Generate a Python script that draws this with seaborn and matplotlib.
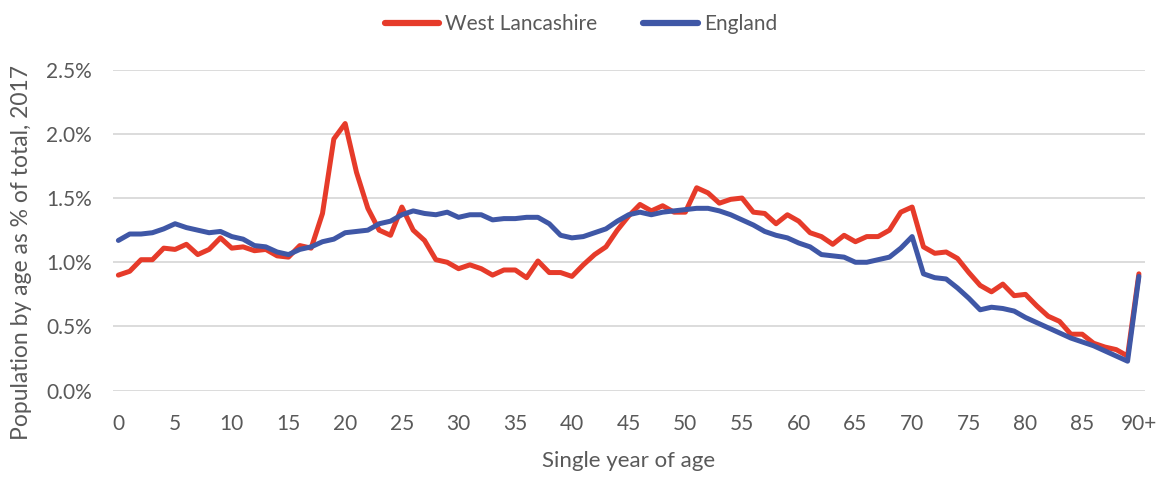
import numpy as np
import pandas as pd
import matplotlib
matplotlib.use("Agg")
import matplotlib.pyplot as plt
import seaborn as sns

# Single year of age, 0 to 90+
ages = list(range(91))
age_tick_labels = ["0", "5", "10", "15", "20", "25", "30", "35", "40", "45",
                   "50", "55", "60", "65", "70", "75", "80", "85", "90+"]

# Population by single year of age as % of total, 2017
west_lancashire = [
    0.90, 0.93, 1.02, 1.02, 1.11, 1.10, 1.14, 1.06, 1.10, 1.19,
    1.11, 1.12, 1.09, 1.10, 1.05, 1.04, 1.13, 1.11, 1.38, 1.96,
    2.08, 1.70, 1.42, 1.25, 1.21, 1.43, 1.25, 1.17, 1.02, 1.00,
    0.95, 0.98, 0.95, 0.90, 0.94, 0.94, 0.88, 1.01, 0.92, 0.92,
    0.89, 0.98, 1.06, 1.12, 1.25, 1.36, 1.45, 1.40, 1.44, 1.39,
    1.39, 1.58, 1.54, 1.46, 1.49, 1.50, 1.39, 1.38, 1.30, 1.37,
    1.32, 1.23, 1.20, 1.14, 1.21, 1.16, 1.20, 1.20, 1.25, 1.39,
    1.43, 1.12, 1.07, 1.08, 1.03, 0.92, 0.82, 0.77, 0.83, 0.74,
    0.75, 0.66, 0.58, 0.54, 0.44, 0.44, 0.37, 0.34, 0.32, 0.27,
    0.91,
]
england = [
    1.17, 1.22, 1.22, 1.23, 1.26, 1.30, 1.27, 1.25, 1.23, 1.24,
    1.20, 1.18, 1.13, 1.12, 1.08, 1.06, 1.10, 1.12, 1.16, 1.18,
    1.23, 1.24, 1.25, 1.30, 1.32, 1.37, 1.40, 1.38, 1.37, 1.39,
    1.35, 1.37, 1.37, 1.33, 1.34, 1.34, 1.35, 1.35, 1.30, 1.21,
    1.19, 1.20, 1.23, 1.26, 1.32, 1.37, 1.39, 1.37, 1.39, 1.40,
    1.41, 1.42, 1.42, 1.40, 1.37, 1.33, 1.29, 1.24, 1.21, 1.19,
    1.15, 1.12, 1.06, 1.05, 1.04, 1.00, 1.00, 1.02, 1.04, 1.11,
    1.20, 0.91, 0.88, 0.87, 0.80, 0.72, 0.63, 0.65, 0.64, 0.62,
    0.57, 0.53, 0.49, 0.45, 0.41, 0.38, 0.35, 0.31, 0.27, 0.23,
    0.89,
]

series_names = ["West Lancashire", "England"]
series_colors = ["#E63B2A", "#3F57A6"]

df = pd.concat([
    pd.DataFrame({"age": ages, "share": west_lancashire, "area": series_names[0]}),
    pd.DataFrame({"age": ages, "share": england, "area": series_names[1]}),
], ignore_index=True)

sns.set_theme(style="white")
plt.rcParams["font.family"] = ["Lato", "DejaVu Sans"]
text_color = "#595959"

fig = plt.figure(figsize=(11.62, 4.8), dpi=100)
ax = fig.add_axes([0.097, 0.186, 0.888, 0.669])

sns.lineplot(data=df, x="age", y="share", hue="area",
             palette=dict(zip(series_names, series_colors)),
             linewidth=3.6, ax=ax, legend=False,
             solid_capstyle="round", solid_joinstyle="round")

ax.set_xlim(-0.5, 90.5)
ax.set_ylim(0, 2.5)
ax.set_yticks(np.arange(0, 2.51, 0.5))
ax.set_yticklabels([f"{v:.1f}%" for v in np.arange(0, 2.51, 0.5)])
ax.set_xticks(list(range(0, 91, 5)))
ax.set_xticklabels(age_tick_labels)
ax.tick_params(axis="both", length=0, labelsize=15, labelcolor=text_color)
ax.tick_params(axis="x", pad=17)
ax.tick_params(axis="y", pad=15)

ax.yaxis.grid(True, color="#D9D9D9", linewidth=1.3)
ax.set_axisbelow(True)
for side in ["top", "right", "left", "bottom"]:
    ax.spines[side].set_visible(False)

ax.set_xlabel("Single year of age", fontsize=16, color=text_color, labelpad=12)
ax.set_ylabel("Population by age as % of total, 2017", fontsize=16.5,
              color=text_color, labelpad=12)
ax.yaxis.set_label_coords(-0.078, 0.43)

handles = [plt.Line2D([0], [0], color=c, linewidth=4.5, solid_capstyle="round")
           for c in series_colors]
fig.legend(handles, series_names, loc="upper center", bbox_to_anchor=(0.5, 1.01),
           ncol=2, frameon=False, fontsize=15, labelcolor=text_color,
           handlelength=2.6, handletextpad=0.3, columnspacing=2.2)

fig.savefig("out.png", dpi=100)
